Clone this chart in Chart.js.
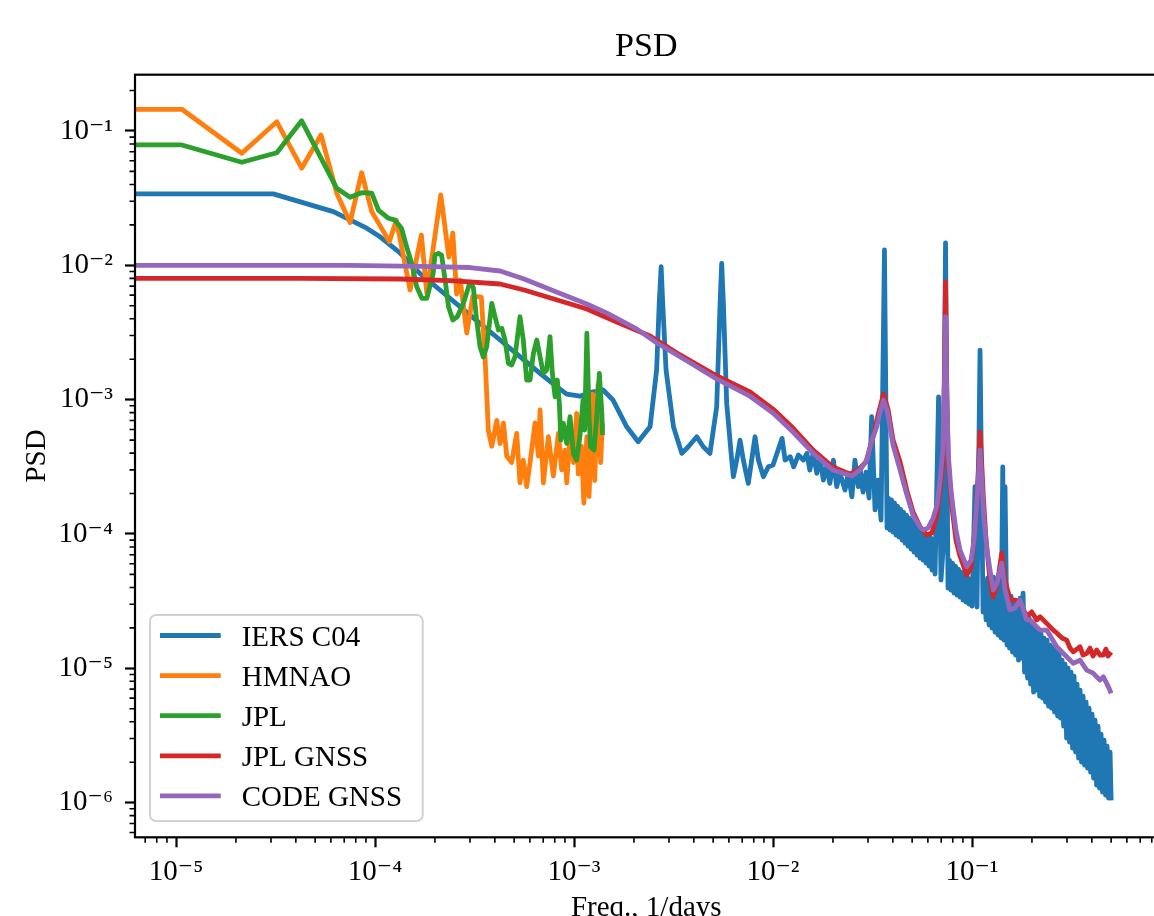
<!DOCTYPE html>
<html>
<head>
<meta charset="utf-8">
<script src="https://cdn.jsdelivr.net/npm/chart.js@4.4.1/dist/chart.umd.min.js"></script>
<style>
html, body { margin: 0; padding: 0; background: #fff; overflow: hidden; width: 1154px; height: 916px; }
#c { position: absolute; left: 0; top: 0; display: block; }
</style>
</head>
<body>
<canvas id="c" width="1170" height="930"></canvas>
<script>
// ---------------- data ----------------
const seriesLabels = ['IERS C04', 'HMNAO', 'JPL', 'JPL GNSS', 'CODE GNSS'];
const seriesColors = ['#1f77b4', '#ff7f0e', '#2ca02c', '#d62728', '#9467bd'];

const iersLowFreq = [5e-6, 3.08e-5, 6.17e-5, 9.08e-5, 1.06e-4, 1.34e-4, 1.68e-4, 2.12e-4, 2.67e-4, 3.37e-4,
  4.25e-4, 5.35e-4, 6.75e-4, 8.18e-4, 9.19e-4, 1.07e-3, 1.23e-3, 1.40e-3, 1.57e-3, 1.84e-3,
  2.10e-3, 2.41e-3, 2.60e-3, 2.68e-3, 2.74e-3, 2.79e-3, 2.90e-3, 3.16e-3, 3.48e-3, 3.75e-3,
  4.14e-3, 4.46e-3, 4.82e-3, 5.21e-3, 5.42e-3, 5.52e-3, 5.63e-3, 5.85e-3, 6.20e-3, 6.32e-3,
  6.57e-3, 6.83e-3, 7.09e-3, 7.51e-3, 8.12e-3, 8.44e-3, 8.94e-3, 9.47e-3, 1.00e-2, 1.11e-2,
  1.15e-2, 1.22e-2, 1.27e-2, 1.34e-2, 1.42e-2, 1.48e-2, 1.53e-2, 1.59e-2, 1.66e-2, 1.72e-2,
  1.79e-2, 1.86e-2, 1.93e-2, 2.01e-2, 2.09e-2, 2.17e-2, 2.30e-2, 2.39e-2, 2.49e-2, 2.58e-2,
  2.68e-2];
const iersLowPsd = [0.034, 0.034, 0.0251, 0.0189, 0.0163, 0.0123, 8.72e-3, 6.55e-3, 4.92e-3, 3.70e-3,
  2.78e-3, 2.09e-3, 1.57e-3, 1.25e-3, 1.10e-3, 1.06e-3, 1.14e-3, 1.18e-3, 9.93e-4, 6.28e-4,
  4.86e-4, 6.28e-4, 1.66e-3, 5.21e-3, 9.76e-3, 5.21e-3, 1.66e-3, 6.28e-4, 3.98e-4, 4.46e-4,
  5.29e-4, 4.46e-4, 3.98e-4, 8.85e-4, 5.21e-3, 1.035e-2, 5.21e-3, 9.38e-4, 3.55e-4, 2.67e-4,
  3.55e-4, 5.0e-4, 3.55e-4, 2.38e-4, 5.29e-4, 3.55e-4, 2.67e-4, 3.16e-4, 3.26e-4, 5.15e-4,
  3.55e-4, 3.76e-4, 3.16e-4, 3.87e-4, 3.55e-4, 3.98e-4, 2.99e-4, 3.98e-4, 2.83e-4, 3.76e-4,
  2.52e-4, 3.16e-4, 2.38e-4, 3.55e-4, 2.25e-4, 2.83e-4, 2.12e-4, 2.83e-4, 1.89e-4, 3.55e-4,
  2.25e-4];
// dense noisy band above ~0.027 1/days (alternating upper / lower envelope readings + tidal spikes)
const iersHighFreq = [
  2.737e-2, 2.834e-2, 2.933e-2, 3.037e-2, 3.13e-2, 3.255e-2, 3.37e-2, 3.489e-2, 3.63e-2,
  0.0374, 0.03805, 0.03872, 0.0394, 0.04009, 0.04079, 0.0415, 0.04223, 0.04297, 0.04372,
  0.04449, 0.04527, 0.04606, 0.04687, 0.04769, 0.04852, 0.04937, 0.05024, 0.05112, 0.05201,
  0.05292, 0.05385, 0.05479, 0.05575, 0.05673, 0.05772, 0.05873, 0.05976, 0.06081, 0.06187,
  0.06295, 0.06406, 0.06518,
  6.79e-2, 6.98e-2, 7.15e-2, 7.36e-2,
  0.07573, 0.07706, 0.07841, 0.07978, 0.08118, 0.0826, 0.08405, 0.08552, 0.08702, 0.08854,
  0.09009, 0.09167, 0.09327, 0.0949, 0.09656, 0.09825, 0.09997,
  0.1035, 0.1059, 0.1097,
  0.1136, 0.1156, 0.1176, 0.1197, 0.1218, 0.1239, 0.1261, 0.1283, 0.1305, 0.1328, 0.1351, 0.1375, 0.1399,
  0.1427, 0.1448, 0.1465, 0.1499,
  0.1517, 0.1544, 0.1571, 0.1598, 0.1626, 0.1655, 0.1684, 0.1713, 0.1743, 0.1774,
  0.1805, 0.1836, 0.1869, 0.1901, 0.1935, 0.1969, 0.2003, 0.2038, 0.2074, 0.211,
  0.2147, 0.2185, 0.2223, 0.2262, 0.2301, 0.2342, 0.2383, 0.2424, 0.2467, 0.251,
  0.2554, 0.2599, 0.2644, 0.2691, 0.2738, 0.2786, 0.2834, 0.2884, 0.2934, 0.2986,
  0.3038, 0.3091, 0.3145, 0.32, 0.3256, 0.3313, 0.3371, 0.343, 0.349, 0.3551,
  0.3613, 0.3677, 0.3741, 0.3806, 0.3873, 0.3941, 0.401, 0.408, 0.4151, 0.4224,
  0.4298, 0.4373, 0.445, 0.4528, 0.4607, 0.4688, 0.477, 0.4853, 0.4938, 0.5];
const iersHighPsd = [
  3.09e-4, 2.05e-4, 2.89e-4, 1.85e-4, 7.46e-4, 1.51e-4, 2.52e-4, 1.27e-4, 0.013,
  1.106e-4, 1.85e-4, 1.07e-4, 1.79e-4, 1.033e-4, 1.7e-4, 9.82e-5, 1.613e-4, 9.48e-5, 1.532e-4,
  9.01e-5, 1.456e-4, 8.55e-5, 1.383e-4, 8.13e-5, 1.313e-4, 7.72e-5, 1.247e-4, 7.33e-5, 1.185e-4,
  6.97e-5, 1.106e-4, 6.62e-5, 1.051e-4, 6.39e-5, 9.98e-5, 6.07e-5, 9.82e-5, 5.77e-5, 9.48e-5,
  5.38e-5, 9.16e-5, 5.03e-5,
  1.05e-3, 4.54e-5, 7.59e-5, 0.0147,
  3.95e-5, 6.39e-5, 3.82e-5, 6.07e-5, 3.63e-5, 5.77e-5, 3.51e-5, 5.48e-5, 3.39e-5, 5.2e-5,
  3.22e-5, 4.94e-5, 3.11e-5, 4.78e-5, 3.01e-5, 4.62e-5, 2.9e-5,
  2.25e-4, 2.86e-5, 2.34e-3,
  2.62e-5, 4.38e-5, 2.29e-5, 4.69e-5, 2.1e-5, 4.94e-5, 1.99e-5, 4.78e-5, 1.86e-5, 4.54e-5, 1.77e-5, 4.23e-5, 1.68e-5,
  3.16e-4, 1.62e-5, 2.25e-4, 1.49e-5,
  3.69e-5, 1.414e-5, 3.45e-5, 1.32e-5, 3.22e-5, 1.254e-5, 3.01e-5, 1.151e-5, 3.33e-5, 1.191e-5,
  3.63e-5, 9.37e-6, 2.53e-5, 8.45e-6, 2.365e-5, 7.62e-6, 2.21e-5, 6.65e-6, 2.06e-5, 6.88e-6,
  1.86e-5, 6.21e-6, 1.8e-5, 6.0e-6, 1.68e-5, 5.6e-6, 1.62e-5, 5.23e-6, 1.489e-5, 5.05e-6,
  1.438e-5, 4.72e-6, 1.366e-5, 4.41e-6, 1.276e-5, 4.26e-6, 1.151e-5, 3.71e-6, 1.075e-5, 3.02e-6,
  1.003e-5, 2.82e-6, 9.37e-6, 2.545e-6, 8.75e-6, 2.38e-6, 7.62e-6, 2.145e-6, 6.88e-6, 2.0e-6,
  6.21e-6, 1.9e-6, 5.6e-6, 1.806e-6, 5.05e-6, 1.687e-6, 4.56e-6, 1.522e-6, 4.11e-6, 1.35e-6,
  3.71e-6, 1.282e-6, 3.24e-6, 1.197e-6, 2.92e-6, 1.137e-6, 2.635e-6, 1.08e-6, 2.38e-6, 1.04e-6];

const hmnaoFreq = [5e-6, 1.07e-5, 2.14e-5, 3.21e-5, 4.28e-5, 5.35e-5, 6.42e-5, 7.49e-5, 8.56e-5, 9.63e-5,
  1.18e-4, 1.28e-4, 1.5e-4, 1.71e-4, 1.82e-4, 2.14e-4, 2.35e-4, 2.46e-4, 2.57e-4, 2.68e-4,
  2.89e-4, 3.1e-4, 3.42e-4, 3.57e-4, 3.71e-4, 3.86e-4, 4.09e-4, 4.25e-4, 4.42e-4, 4.59e-4,
  4.86e-4, 5.15e-4, 5.35e-4, 5.56e-4, 5.78e-4, 6.01e-4, 6.37e-4, 6.62e-4, 6.75e-4, 7.01e-4,
  7.43e-4, 7.87e-4, 8.34e-4, 8.67e-4, 9.01e-4, 9.19e-4, 9.55e-4, 9.93e-4, 1.03e-3, 1.05e-3,
  1.09e-3, 1.12e-3, 1.16e-3, 1.19e-3, 1.24e-3, 1.27e-3, 1.32e-3, 1.36e-3, 1.39e-3];
const hmnaoPsd = [0.145, 0.145, 0.0682, 0.117, 0.0528, 0.0934, 0.0344, 0.0208, 0.0489, 0.0251,
  0.015, 0.0217, 0.00655, 0.0168, 0.00622, 0.0334, 0.0115, 0.0174, 0.0061, 0.00778,
  0.00313, 0.0059, 0.0058, 2.1e-3, 5.9e-4, 4.5e-4, 7.0e-4, 4.7e-4, 6.7e-4, 3.8e-4,
  3.4e-4, 5.6e-4, 2.4e-4, 3.55e-4, 2.25e-4, 3.4e-4, 6.7e-4, 3.8e-4, 8.4e-4, 2.4e-4,
  5.3e-4, 2.7e-4, 5.6e-4, 3.0e-4, 4.2e-4, 2.4e-4, 5.9e-4, 3.4e-4, 7.9e-4, 2.8e-4,
  4.5e-4, 1.7e-4, 5.3e-4, 1.9e-4, 1.1e-3, 2.5e-4, 1.3e-3, 3.4e-4, 6.7e-4];

const jplFreq = [5e-6, 1.07e-5, 2.14e-5, 3.21e-5, 4.28e-5, 6.42e-5, 7.49e-5, 8.56e-5, 9.63e-5, 1.04e-4,
  1.17e-4, 1.26e-4, 1.36e-4, 1.44e-4, 1.53e-4, 1.62e-4, 1.72e-4, 1.82e-4, 1.96e-4, 2.0e-4,
  2.08e-4, 2.16e-4, 2.25e-4, 2.34e-4, 2.46e-4, 2.59e-4, 2.78e-4, 3.0e-4, 3.12e-4, 3.24e-4,
  3.37e-4, 3.5e-4, 3.64e-4, 3.86e-4, 4.01e-4, 4.17e-4, 4.33e-4, 4.5e-4, 4.68e-4, 4.86e-4,
  5.05e-4, 5.35e-4, 5.56e-4, 5.78e-4, 6.01e-4, 6.25e-4, 6.5e-4, 6.75e-4, 7.01e-4, 7.29e-4,
  7.57e-4, 7.78e-4, 8.03e-4, 8.24e-4, 8.44e-4, 8.58e-4, 8.84e-4, 9.19e-4, 9.55e-4, 9.93e-4,
  1.03e-3, 1.07e-3, 1.11e-3, 1.13e-3, 1.16e-3, 1.19e-3, 1.21e-3, 1.26e-3, 1.30e-3, 1.34e-3,
  1.38e-3, 1.39e-3];
const jplPsd = [0.0787, 0.0787, 0.0585, 0.0689, 0.119, 0.0374, 0.0321, 0.0347, 0.0344, 0.0258,
  0.0224, 0.0217, 0.0188, 0.0138, 0.0103, 0.00693, 0.00568, 0.00568, 0.00871, 0.0119,
  0.0123, 0.0119, 0.00776, 0.00492, 0.00392, 0.00414, 0.00521, 0.0075, 0.0068, 0.00392,
  0.00248, 0.00208, 0.00248, 0.00521, 0.00414, 0.0033, 0.0034, 0.00278, 0.00186, 0.00181,
  0.00208, 0.00414, 0.00278, 0.0014, 0.0014, 0.00221, 0.00278, 0.00208, 0.00157, 0.00166,
  0.00294, 0.00157, 0.00105, 0.0014, 9.38e-4, 5.0e-4, 6.67e-4, 4.73e-4, 7.46e-4, 3.98e-4,
  3.55e-4, 5.3e-4, 9.93e-4, 5.94e-4, 3.12e-3, 7.46e-4, 4.46e-4, 4.21e-4, 7.46e-4, 1.57e-3,
  7.91e-4, 5.45e-4];

const jplGnssFreq = [5e-6, 4.2e-5, 1.34e-4, 2.41e-4, 4.25e-4, 5.61e-4, 7.93e-4, 1.16e-3, 1.64e-3, 2.41e-3,
  3.29e-3, 5.23e-3, 7.66e-3, 1.0e-2, 1.26e-2, 1.59e-2, 2.0e-2, 2.44e-2, 2.67e-2, 2.93e-2,
  3.18e-2, 3.37e-2, 3.59e-2, 3.79e-2, 4.01e-2, 4.35e-2, 4.7e-2, 5.05e-2, 5.48e-2, 5.92e-2,
  6.29e-2, 6.65e-2, 6.91e-2, 7.13e-2, 7.23e-2, 7.36e-2, 7.48e-2, 7.6e-2, 7.84e-2, 8.05e-2,
  8.3e-2, 8.7e-2, 9.41e-2, 9.89e-2, 0.1015, 0.1047, 0.1075, 0.1097, 0.1123, 0.114,
  0.1176, 0.1231, 0.1275, 0.1336, 0.141, 0.1465, 0.1552, 0.1644, 0.1743, 0.1883,
  0.1995, 0.2114, 0.2196, 0.2373, 0.2562, 0.2665, 0.2833, 0.2991, 0.3107, 0.3228,
  0.3488, 0.3612, 0.377, 0.3917, 0.4056, 0.4232, 0.4396, 0.4569, 0.4712, 0.4824,
  0.5];
const jplGnssPsd = [8.0e-3, 8.0e-3, 7.91e-3, 7.7e-3, 7.26e-3, 6.55e-3, 5.61e-3, 4.73e-3, 3.78e-3, 2.98e-3,
  2.22e-3, 1.5e-3, 1.14e-3, 8.51e-4, 6.14e-4, 4.21e-4, 3.15e-4, 2.79e-4, 3.0e-4, 3.43e-4,
  5.27e-4, 7.68e-4, 1.1e-3, 8.37e-4, 5.0e-4, 3.43e-4, 2.12e-4, 1.46e-4, 1.13e-4, 9.82e-5,
  1.02e-4, 1.38e-4, 2.12e-4, 3.37e-4, 9.93e-4, 7.51e-3, 9.93e-4, 3.37e-4, 1.79e-4, 1.31e-4,
  9.01e-5, 6.85e-5, 4.94e-5, 5.67e-5, 7.99e-5, 1.38e-4, 2.99e-4, 5.74e-4, 2.99e-4, 1.88e-4,
  9.01e-5, 4.54e-5, 3.39e-5, 4.16e-5, 7.21e-5, 4.54e-5, 3.22e-5, 3.22e-5, 3.13e-5, 2.42e-5,
  2.63e-5, 2.29e-5, 2.42e-5, 2.16e-5, 1.925e-5, 1.83e-5, 1.68e-5, 1.62e-5, 1.414e-5, 1.327e-5,
  1.446e-5, 1.254e-5, 1.291e-5, 1.414e-5, 1.233e-5, 1.37e-5, 1.254e-5, 1.254e-5, 1.39e-5, 1.233e-5,
  1.32e-5];

const codeGnssFreq = [5e-6, 7.49e-5, 1.68e-4, 3.0e-4, 4.25e-4, 5.61e-4, 7.93e-4, 1.16e-3, 1.465e-3, 2.07e-3,
  2.61e-3, 3.7e-3, 5.23e-3, 7.66e-3, 1.0e-2, 1.26e-2, 1.59e-2, 2.0e-2, 2.49e-2, 2.74e-2,
  2.96e-2, 3.14e-2, 3.32e-2, 3.45e-2, 3.59e-2, 3.74e-2, 4.01e-2, 4.35e-2, 4.66e-2, 5.05e-2,
  5.48e-2, 5.69e-2, 6.01e-2, 6.37e-2, 6.67e-2, 6.91e-2, 7.13e-2, 7.27e-2, 7.36e-2, 7.44e-2,
  7.6e-2, 7.84e-2, 8.05e-2, 8.3e-2, 8.7e-2, 9.41e-2, 9.89e-2, 0.1023, 0.1059, 0.1097,
  0.1123, 0.1149, 0.119, 0.1231, 0.1279, 0.1336, 0.141, 0.1465, 0.1552, 0.1644,
  0.1743, 0.1883, 0.1956, 0.2196, 0.2373, 0.2665, 0.2991, 0.3228, 0.3488, 0.377,
  0.4056, 0.4232, 0.4396, 0.4569, 0.4751, 0.4878, 0.5];
const codeGnssPsd = [1.0e-2, 1.0e-2, 9.82e-3, 9.63e-3, 9.07e-3, 7.91e-3, 6.44e-3, 5.15e-3, 4.41e-3, 3.35e-3,
  2.64e-3, 1.94e-3, 1.42e-3, 1.06e-3, 7.94e-4, 5.74e-4, 4.0e-4, 2.99e-4, 2.7e-4, 3.0e-4,
  3.55e-4, 5.0e-4, 6.28e-4, 8.08e-4, 9.93e-4, 8.37e-4, 4.59e-4, 2.99e-4, 2.05e-4, 1.38e-4,
  1.125e-4, 1.07e-4, 1.106e-4, 1.31e-4, 1.64e-4, 2.52e-4, 4.21e-4, 1.4e-3, 4.14e-3, 1.4e-3,
  3.87e-4, 2.12e-4, 1.51e-4, 1.07e-4, 7.59e-5, 5.7e-5, 6.39e-5, 9.01e-5, 1.79e-4, 4.21e-4,
  2.31e-4, 1.27e-4, 7.59e-5, 5.38e-5, 3.82e-5, 4.31e-5, 6.07e-5, 3.82e-5, 2.71e-5, 2.81e-5,
  3.22e-5, 2.29e-5, 2.29e-5, 1.925e-5, 1.925e-5, 1.446e-5, 1.218e-5, 1.088e-5, 1.151e-5, 9.7e-6,
  9.21e-6, 8.64e-6, 8.17e-6, 8.64e-6, 7.72e-6, 7.12e-6, 6.5e-6];

// axis limits and decade tick positions
const xLimits = [6.22e-6, 0.855];
const yLimits = [5.52e-7, 0.2624];
const xDecades = [1e-6, 1e-5, 1e-4, 1e-3, 1e-2, 1e-1];
const yDecades = [1e-7, 1e-6, 1e-5, 1e-4, 1e-3, 1e-2, 1e-1];
const titleText = 'PSD';
const xTitle = 'Freq., 1/days';
const yTitle = 'PSD';

// ---------------- chart ----------------
const FONT = "'Liberation Serif', 'DejaVu Serif', serif";
const LINE_W = 4.8;
Chart.defaults.font.family = FONT;
Chart.defaults.color = '#000';

function pairs(fx, fy) { return fx.map((x, i) => ({x: x, y: fy[i]})); }
function logTicks(decades, lim) {
  const out = [];
  decades.forEach(p => {
    for (let m = 1; m <= 9; m++) {
      const v = +(m * p).toPrecision(4);
      if (v >= lim[0] && v <= lim[1]) out.push({value: v, major: m === 1});
    }
  });
  return out;
}
const SUP = {'-': '\u207B', '0': '\u2070', '1': '\u00B9', '2': '\u00B2', '3': '\u00B3', '4': '\u2074',
  '5': '\u2075', '6': '\u2076', '7': '\u2077', '8': '\u2078', '9': '\u2079'};
function powLabel(v) {
  const e = Math.round(Math.log10(v));
  if (Math.abs(v / Math.pow(10, e) - 1) > 1e-6) return '';
  return '10' + String(e).split('').map(c => SUP[c]).join('');
}

const seriesData = [
  pairs(iersLowFreq.concat(iersHighFreq), iersLowPsd.concat(iersHighPsd)),
  pairs(hmnaoFreq, hmnaoPsd),
  pairs(jplFreq, jplPsd),
  pairs(jplGnssFreq, jplGnssPsd),
  pairs(codeGnssFreq, codeGnssPsd)
];

const datasets = seriesData.map((d, i) => ({
  label: seriesLabels[i],
  data: d,
  borderColor: seriesColors[i],
  backgroundColor: seriesColors[i],
  borderWidth: LINE_W,
  pointRadius: 0,
  tension: 0,
  fill: false,
  borderJoinStyle: 'round',
  clip: 0,
  order: seriesLabels.length - i
}));

const decor = {
  id: 'decor',
  afterDatasetsDraw(chart) {
    const ctx = chart.ctx, a = chart.chartArea;
    const xs = chart.scales.x, ys = chart.scales.y;
    ctx.save();
    // minor ticks
    ctx.strokeStyle = '#000';
    ctx.lineWidth = 1.6;
    ctx.beginPath();
    xs.ticks.forEach(t => {
      if (!t.major) { const p = xs.getPixelForValue(t.value); ctx.moveTo(p, a.bottom); ctx.lineTo(p, a.bottom + 5.5); }
    });
    ys.ticks.forEach(t => {
      if (!t.major) { const p = ys.getPixelForValue(t.value); ctx.moveTo(a.left, p); ctx.lineTo(a.left - 5.5, p); }
    });
    ctx.stroke();
    // frame (spines)
    ctx.lineWidth = 2.2;
    ctx.strokeRect(a.left, a.top, a.right - a.left, a.bottom - a.top);
    // legend
    const lw = 272.7, lh = 206, r = 6;
    const lx = a.left + 15, ly = a.bottom - 16.3 - lh;
    ctx.beginPath();
    ctx.moveTo(lx + r, ly);
    ctx.arcTo(lx + lw, ly, lx + lw, ly + lh, r);
    ctx.arcTo(lx + lw, ly + lh, lx, ly + lh, r);
    ctx.arcTo(lx, ly + lh, lx, ly, r);
    ctx.arcTo(lx, ly, lx + lw, ly, r);
    ctx.closePath();
    ctx.fillStyle = 'rgba(255,255,255,0.8)';
    ctx.fill();
    ctx.strokeStyle = 'rgba(204,204,204,0.9)';
    ctx.lineWidth = 2;
    ctx.stroke();
    ctx.font = '29px ' + FONT;
    ctx.textBaseline = 'alphabetic';
    ctx.textAlign = 'left';
    chart.data.datasets.forEach((ds, i) => {
      const y = ly + 20.5 + i * 40.1;
      ctx.strokeStyle = ds.borderColor;
      ctx.lineWidth = LINE_W;
      ctx.beginPath();
      ctx.moveTo(lx + 10, y);
      ctx.lineTo(lx + 70.7, y);
      ctx.stroke();
      ctx.fillStyle = '#000';
      ctx.fillText(ds.label, lx + 91.7, y + 10);
    });
    ctx.restore();
  }
};

const tickGrid = {
  display: true,
  drawOnChartArea: false,
  drawTicks: true,
  tickLength: 10,
  tickWidth: 2.2,
  tickColor: (c) => (c.tick && c.tick.major ? '#000' : 'rgba(0,0,0,0)')
};

new Chart(document.getElementById('c'), {
  type: 'line',
  data: {datasets: datasets},
  plugins: [decor],
  options: {
    responsive: false,
    animation: false,
    devicePixelRatio: 1,
    events: [],
    layout: {padding: {left: 0, right: 12.5, top: 0, bottom: 0}},
    plugins: {
      legend: {display: false},
      tooltip: {enabled: false},
      title: {
        display: true, text: titleText, fullSize: false, color: '#000',
        font: {family: FONT, size: 34, weight: 'normal'},
        padding: {top: 26.6, bottom: 7.3}
      }
    },
    scales: {
      x: {
        type: 'logarithmic', position: 'bottom',
        min: xLimits[0], max: xLimits[1], bounds: 'data',
        afterBuildTicks: (s) => { s.ticks = logTicks(xDecades, xLimits); },
        afterFit: (s) => { s.height = 92.7; },
        grid: tickGrid,
        border: {display: false},
        ticks: {
          autoSkip: false, maxRotation: 0, minRotation: 0, padding: 8,
          font: {family: FONT, size: 29}, color: '#000',
          callback: (v) => powLabel(v)
        },
        title: {display: true, text: xTitle, color: '#000', font: {family: FONT, size: 29}, padding: {top: 0, bottom: 4.6}}
      },
      y: {
        type: 'logarithmic', position: 'left',
        min: yLimits[0], max: yLimits[1], bounds: 'data',
        afterBuildTicks: (s) => { s.ticks = logTicks(yDecades, yLimits); },
        afterFit: (s) => { s.width = 135; },
        grid: tickGrid,
        border: {display: false},
        ticks: {
          autoSkip: false, padding: 12,
          font: {family: FONT, size: 29}, color: '#000',
          callback: (v) => powLabel(v)
        },
        title: {display: true, text: yTitle, color: '#000', font: {family: FONT, size: 29}, padding: {top: 19.6, bottom: 0}}
      }
    }
  }
});
</script>
</body>
</html>
